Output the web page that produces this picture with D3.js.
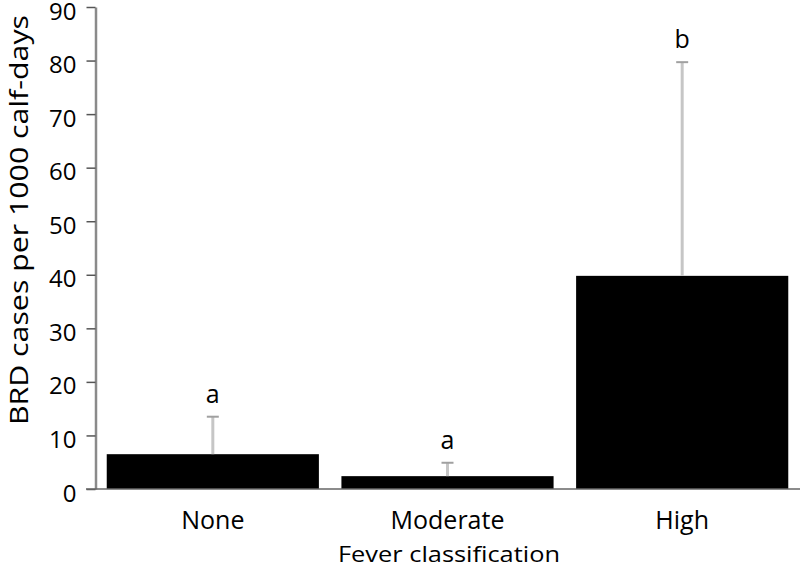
<!DOCTYPE html>
<html>
<head>
<meta charset="utf-8">
<script src="https://cdn.jsdelivr.net/npm/d3@7"></script>
<style>
  body { margin: 0; background: #fff; }
  text { font-family: "Open Sans", "Noto Sans", sans-serif; fill: #000; }
</style>
</head>
<body>
<svg id="chart" width="800" height="567"></svg>
<script>
// data
var categories = ["None", "Moderate", "High"];
var rates = [6.5, 2.4, 39.8];
var upperErr = [13.5, 4.9, 79.7];
var letters = ["a", "a", "b"];
var yTicks = [0, 10, 20, 30, 40, 50, 60, 70, 80, 90];

var svg = d3.select("#chart");

var yScale = d3.scaleLinear()
    .domain([0, 90])
    .range([489, 7]);

var xScale = d3.scaleBand()
    .domain(categories)
    .range([95, 800])
    .paddingInner(0.096)
    .paddingOuter(0.05);

// bars
svg.selectAll("rect.bar")
    .data(categories)
    .enter()
    .append("rect")
    .attr("class", "bar")
    .attr("x", function(d) { return xScale(d); })
    .attr("y", function(d, i) { return yScale(rates[i]); })
    .attr("width", xScale.bandwidth())
    .attr("height", function(d, i) { return yScale(0) - yScale(rates[i]); })
    .attr("fill", "#000");

// error bars, upper half only
var errGroup = svg.append("g");
categories.forEach(function(d, i) {
    var cx = xScale(d) + xScale.bandwidth() / 2;
    errGroup.append("line")
        .attr("x1", cx).attr("x2", cx)
        .attr("y1", yScale(rates[i])).attr("y2", yScale(upperErr[i]))
        .attr("stroke", "#c6c6c6")
        .attr("stroke-width", 3);
    errGroup.append("line")
        .attr("x1", cx - 6).attr("x2", cx + 6)
        .attr("y1", yScale(upperErr[i])).attr("y2", yScale(upperErr[i]))
        .attr("stroke", "#a0a0a0")
        .attr("stroke-width", 2);
    errGroup.append("text")
        .attr("x", cx)
        .attr("y", yScale(upperErr[i]) - 14)
        .attr("text-anchor", "middle")
        .style("font-size", "25px")
        .text(letters[i]);
});

// y axis
var yAxis = d3.axisLeft(yScale)
    .tickValues(yTicks)
    .tickSize(9)
    .tickPadding(10)
    .tickSizeOuter(0);

var yG = svg.append("g")
    .attr("transform", "translate(95.5,0)")
    .call(yAxis);
yG.select(".domain").attr("stroke", "#8a8a8a").attr("stroke-width", 2.5);
yG.selectAll(".tick line").attr("stroke", "#555").attr("stroke-width", 1.5);
yG.selectAll(".tick text")
    .attr("dy", "0.5em")
    .style("font-size", "24px")
    .style("font-family", "'Open Sans', sans-serif")
    .attr("fill", "#000");

// x axis baseline
svg.append("line")
    .attr("x1", 86).attr("x2", 800)
    .attr("y1", yScale(0)).attr("y2", yScale(0))
    .attr("stroke", "#666")
    .attr("stroke-width", 1.5);

// category labels
svg.selectAll("text.cat")
    .data(categories)
    .enter()
    .append("text")
    .attr("class", "cat")
    .attr("x", function(d) { return xScale(d) + xScale.bandwidth() / 2; })
    .attr("y", 529)
    .attr("text-anchor", "middle")
    .style("font-size", "25px")
    .text(function(d) { return d; });

// axis titles
svg.append("text")
    .attr("x", 449)
    .attr("y", 562)
    .attr("text-anchor", "middle")
    .attr("textLength", 222)
    .attr("lengthAdjust", "spacingAndGlyphs")
    .style("font-size", "22px")
    .text("Fever classification");

svg.append("text")
    .attr("transform", "translate(28,220) rotate(-90)")
    .attr("text-anchor", "middle")
    .attr("textLength", 410)
    .attr("lengthAdjust", "spacingAndGlyphs")
    .style("font-size", "25px")
    .text("BRD cases per 1000 calf-days");
</script>
</body>
</html>
